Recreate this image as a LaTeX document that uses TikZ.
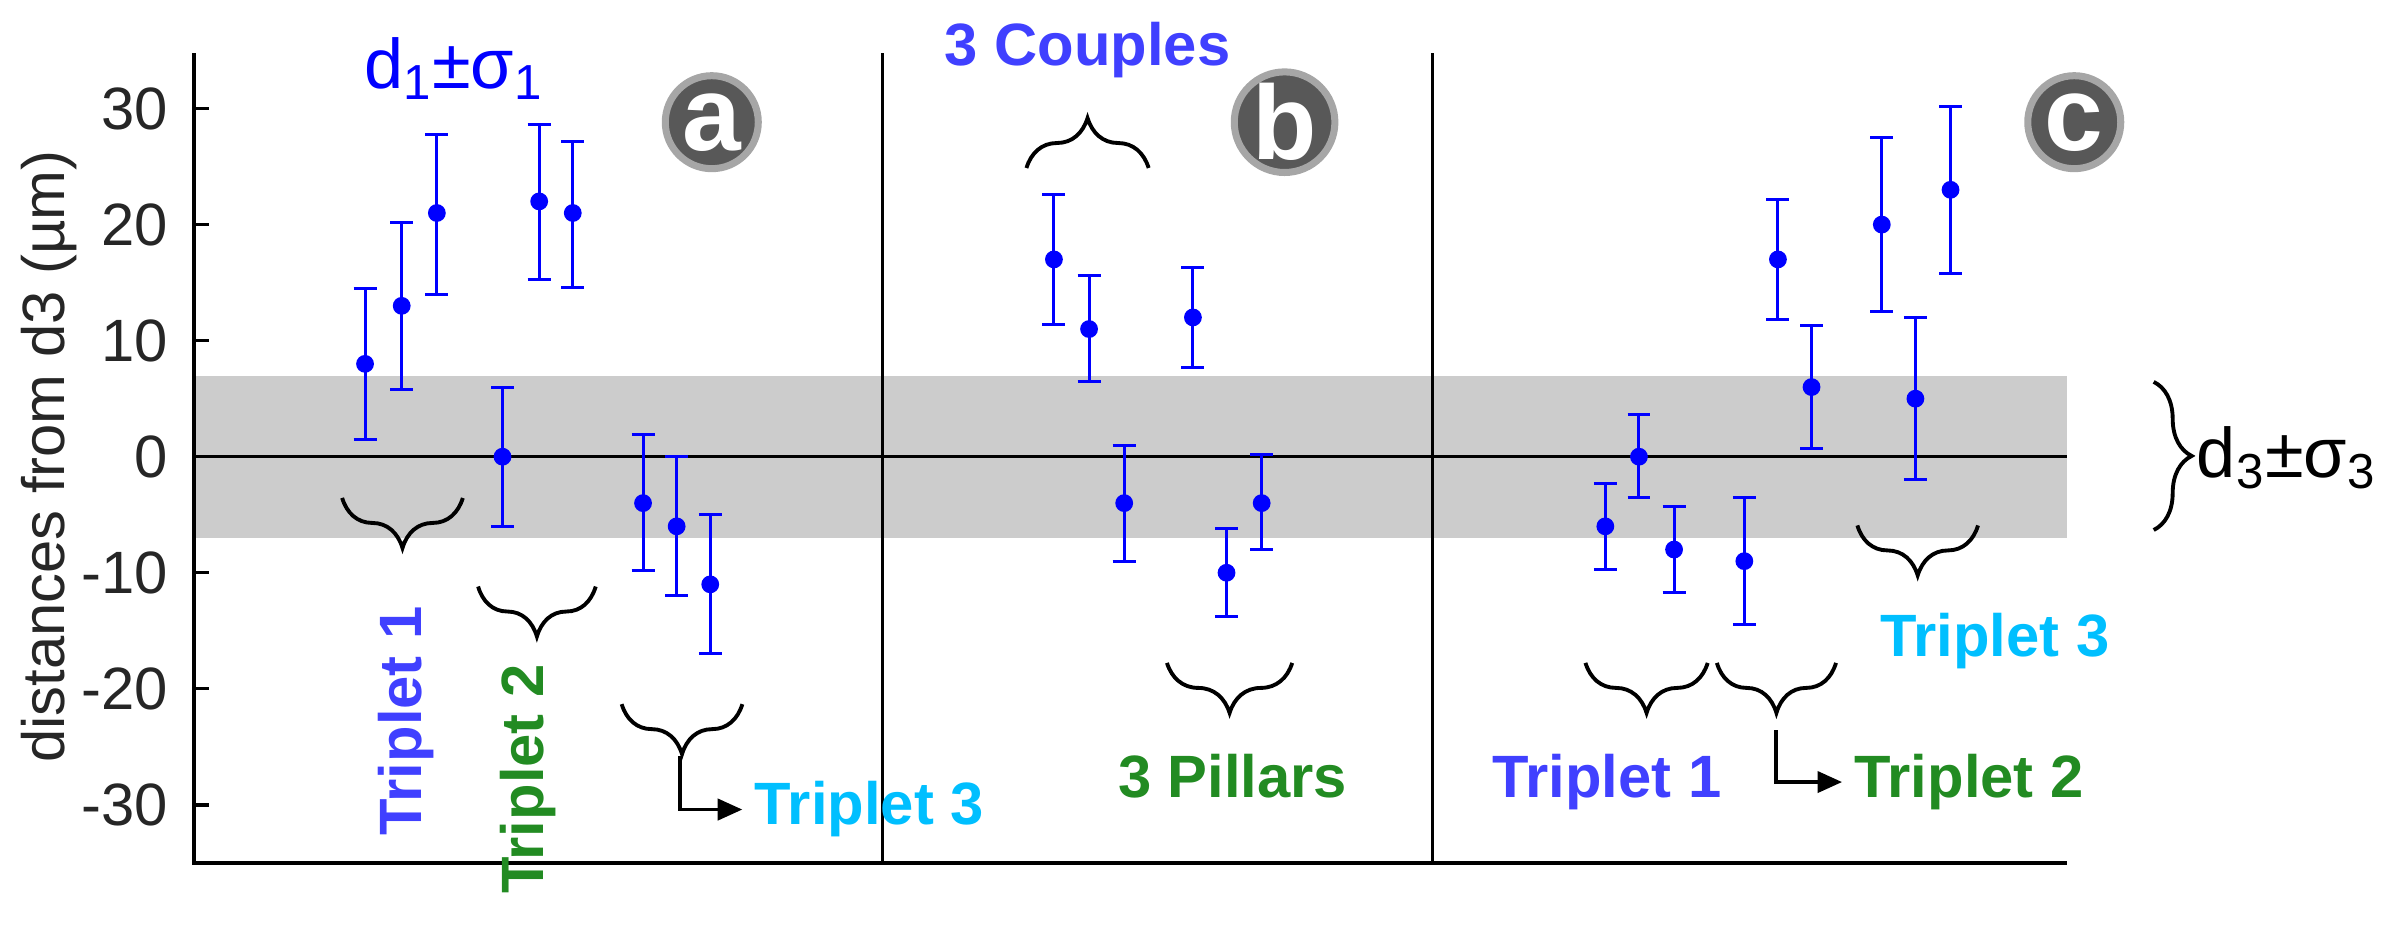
\documentclass[tikz,border=0pt]{standalone}
\usepackage{fontspec}
\setmainfont{Liberation Sans}
\usetikzlibrary{decorations.pathreplacing,arrows.meta}
\definecolor{dblue}{RGB}{0,0,255}
\definecolor{tblue}{RGB}{64,64,255}
\definecolor{tgreen}{RGB}{34,139,34}
\definecolor{tcyan}{RGB}{0,191,255}
\definecolor{band}{RGB}{204,204,204}
\definecolor{disc}{RGB}{88,88,88}
\begin{document}
\begin{tikzpicture}[x=0.01527cm,y=-0.01527cm,
  tick/.style={font=\fontsize{17}{19}\selectfont,text=black!85,anchor=east},
  lab/.style={font=\bfseries\fontsize{17}{19}\selectfont},
  brc/.style={decorate,decoration={brace,amplitude=0.5cm},line width=1.1pt},
  ubrc/.style={decorate,decoration={brace,amplitude=0.5cm,mirror},line width=1.1pt},
  letter/.style={circle,fill=disc,draw=gray!70,line width=2pt,minimum size=0.93cm,inner sep=0pt,text=white,font=\bfseries\fontsize{30}{32}\selectfont}]
\useasboundingbox (0,0) rectangle (1568,615);
% band
\fill[band] (127,246) rectangle (1353,352);
% axes
\draw[line width=0.9pt] (127,35) -- (127,565) -- (1353,565);
\draw[line width=0.9pt] (127,299) -- (1353,299);
\draw[line width=0.9pt] (578,35) -- (578,565);
\draw[line width=0.9pt] (938,35) -- (938,565);
\foreach \v in {30,20,10,0,-10,-20,-30}{
  \draw[line width=0.9pt] (127,{299-7.6*\v}) -- (137,{299-7.6*\v});
  \node[tick] (t\v) at (118,{299-7.6*\v}) {\v};
}
\node[rotate=90,font=\fontsize{17}{19}\selectfont,text=black!85] (ylab) at (32,299) {distances from d3 (µm)};
% data
\begin{scope}[shift={(0,299)},y=0.11605cm]
\foreach \x/\v/\lo/\hi in {239/8/1.5/14.5,263/13/5.8/20.2,286/21/14/27.8,329/0/-6/6,353/22/15.3/28.6,375/21/14.6/27.2,421/-4/-9.8/1.9,443/-6/-12/0,465/-11/-17/-5,
690/17/11.4/22.6,713/11/6.5/15.6,736/-4/-9/1,781/12/7.7/16.3,803/-10/-13.8/-6.2,826/-4/-8/0.2,
1051/-6/-9.7/-2.3,1073/0/-3.5/3.6,1096/-8/-11.7/-4.3,1142/-9/-14.5/-3.5,1164/17/11.8/22.2,1186/6/0.7/11.3,1232/20/12.5/27.5,1254/5/-2/12,1277/23/15.8/30.2}{
  \draw[dblue,line width=0.85pt] (\x,\lo) -- (\x,\hi);
  \draw[dblue,line width=0.85pt] ({\x-7.5},\lo) -- ({\x+7.5},\lo) ({\x-7.5},\hi) -- ({\x+7.5},\hi);
  \fill[dblue] (\x,\v) circle (0.089cm);
}
\end{scope}
% letters
\node[letter] (la) at (466,80) {a};
\node[letter] (lb) at (841,80) {b};
\node[letter] (lc) at (1358,80) {c};
% labels
\node[text=dblue,font=\fontsize{20}{22}\selectfont] (d1) at (297,45) {d\textsubscript{1}±σ\textsubscript{1}};
\node[lab,text=tblue] (cp) at (712,33) {3 Couples};
\node[lab,text=tblue,rotate=90] (t1a) at (266,472) {Triplet 1};
\node[lab,text=tgreen,rotate=90] (t2a) at (346,510) {Triplet 2};
\node[lab,text=tcyan,anchor=west] (t3a) at (486,530) {Triplet 3};
\node[lab,text=tgreen] (pl) at (807,508) {3 Pillars};
\node[lab,text=tblue] (t1c) at (1052,512) {Triplet 1};
\node[lab,text=tgreen,anchor=west] (t2c) at (1206,512) {Triplet 2};
\node[lab,text=tcyan] (t3c) at (1306,420) {Triplet 3};
\node[font=\fontsize{20}{22}\selectfont] (d3) at (1497,300) {d\textsubscript{3}±σ\textsubscript{3}};
% braces
\draw[ubrc] (224,326) -- (303,326);
\draw[ubrc] (313,384) -- (390,384);
\draw[ubrc] (407,461) -- (486,461);
\draw[brc] (672,110) -- (752,110);
\draw[ubrc] (764,434) -- (846,434);
\draw[ubrc] (1038,434) -- (1118,434);
\draw[ubrc] (1124,434) -- (1202,434);
\draw[ubrc] (1216,344) -- (1295,344);
\draw[decorate,decoration={brace,amplitude=0.38cm},line width=1.1pt] (1410,250) -- (1410,347);
% arrows
\coordinate (a1) at (445,495);
\coordinate (a2) at (1163,478);
\draw[-{Triangle[length=7pt,width=6pt]},line width=1.1pt] (a1) |- (t3a.west);
\draw[-{Triangle[length=7pt,width=6pt]},line width=1.1pt] (a2) |- (t2c.west);
\end{tikzpicture}
\end{document}
